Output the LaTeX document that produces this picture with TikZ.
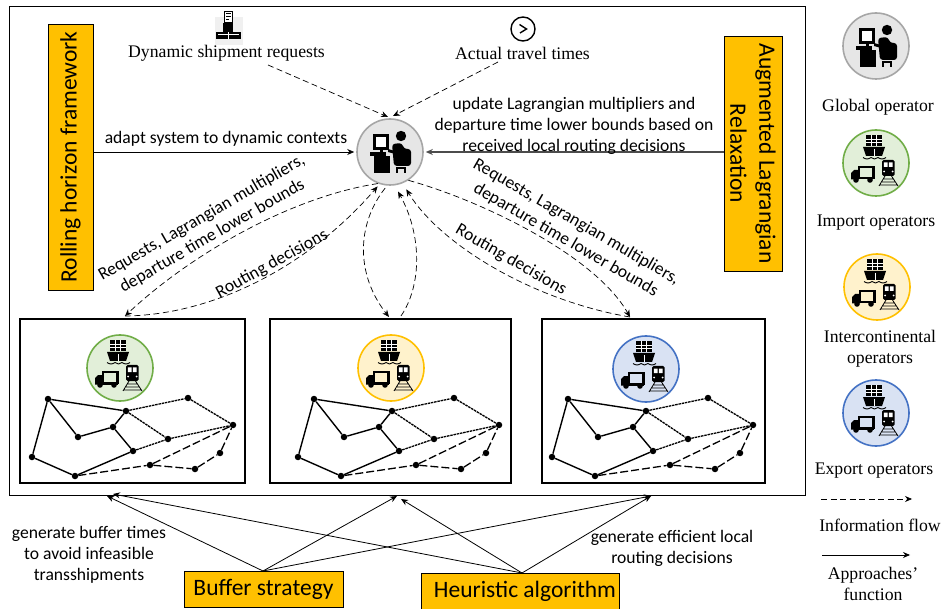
\documentclass[tikz,border=0pt]{standalone}
\usepackage{fontspec}
\setmainfont{Liberation Serif}
\newfontfamily\calib{Carlito}
\usetikzlibrary{arrows.meta,calc}
\tikzset{
  flow/.style={draw=black,line width=0.7pt,dash pattern=on 6pt off 3.5pt,-{Stealth[length=7pt,width=6pt]}},
  func/.style={draw=black,line width=0.8pt,-{Stealth[length=7pt,width=6pt]}},
  yellowbox/.style={draw=black,fill=orangebox,line width=0.8pt,inner sep=0pt,font=\calib\fontsize{23.5}{28}\selectfont,align=center},
  panel/.style={draw=black,line width=1.2pt,fill=white,minimum width=225pt,minimum height=164pt,inner sep=0pt},
  calibtext/.style={font=\calib\fontsize{17.6}{21}\selectfont,align=center,inner sep=0pt},
  serif/.style={font=\fontsize{17.7}{21}\selectfont,align=center,inner sep=0pt},
  disc/.style={circle,minimum size=66pt,inner sep=0pt,line width=1.6pt},
  grayd/.style={disc,draw=graybd,fill=grayfl},
  greend/.style={disc,draw=greenbd,fill=greenfl},
  yellowd/.style={disc,draw=orangebox,fill=yellowfl},
  blued/.style={disc,draw=bluebd,fill=bluefl},
  netnode/.style={circle,fill=black,minimum size=6.5pt,inner sep=0pt},
  solidedge/.style={line width=1.4pt},
  fineedge/.style={line width=1.3pt,dash pattern=on 2.5pt off 0.8pt},
  longedge/.style={line width=1.3pt,dash pattern=on 8pt off 3pt},
  pics/operator/.style={code={
    \draw[black,line width=2.4pt,fill=white] (-15.5,-16.5) rectangle (-2.5,-3.5);
    \fill[black] (-20,0) rectangle (-4,4);
    \fill[black] (-16,4) rectangle (0,21);
    \fill[black] (-10,-3) rectangle (-7,0);
    \fill[black] (11,-16) circle (5.2pt);
    \fill[black,rounded corners=3pt] (2,-8) -- (12,-9) -- (14,-3) -- (21,-3) -- (21,14) -- (4,14) -- cycle;
    \fill[black] (-2,-3) -- (5,-1) -- (5,2) -- (-2,0) -- cycle;
    \draw[black,line width=2pt] (7,21) -- (7,16) -- (15,16) -- (15,21);
  }},
  pics/transport/.style={code={
    \fill[black] (-10,-28) rectangle (6,-17);
    \draw[white,line width=0.4pt] (-5,-28) -- (-5,-17) (0.5,-28) -- (0.5,-17) (-10,-24) -- (6,-24) (-10,-20.5) -- (6,-20.5);
    \fill[black] (-13,-16) -- (9,-16) -- (6,-7) -- (-10,-7) -- cycle;
    \draw[white,line width=0.5pt] (-2,-14) -- (-2,-7);
    \draw[black,line width=0.9pt] (-13,-5.5) .. controls (-10,-3.5) and (-8,-3.5) .. (-5,-5.5) .. controls (-3,-3.5) and (0,-3.5) .. (2,-5.5) .. controls (5,-3.5) and (7,-3.5) .. (10,-5.5);
    \draw[black,line width=2.2pt] (-17,4) rectangle (-2.5,15);
    \fill[black] (-25,16.5) -- (-25,10) -- (-22,7) -- (-17,7) -- (-17,16.5) -- cycle;
    \fill[black] (-2,15) -- (-18,15) -- (-18,16.5) -- (-2,16.5) -- cycle;
    \fill[black] (-20,17) circle (2.8pt) (-6,17) circle (2.8pt);
    \fill[black,rounded corners=1.5pt] (6,-3) rectangle (18.5,13);
    \fill[white] (7.8,-0.5) rectangle (11.6,4) (12.9,-0.5) rectangle (16.7,4);
    \fill[white] (8,8.5) circle (1pt) (16.5,8.5) circle (1pt);
    \draw[black,line width=0.8pt] (9,13) -- (3,23) (15.5,13) -- (22,23) (7.5,16) -- (17,16) (6,19) -- (18.5,19) (4,22) -- (21,22);
  }}
}
\definecolor{orangebox}{HTML}{FFC000}
\definecolor{graybd}{HTML}{A6A6A6}
\definecolor{grayfl}{HTML}{E6E6E6}
\definecolor{greenbd}{HTML}{70AD47}
\definecolor{greenfl}{HTML}{E2EFD9}
\definecolor{yellowfl}{HTML}{FFF2CC}
\definecolor{bluebd}{HTML}{4472C4}
\definecolor{bluefl}{HTML}{D9E2F3}
\newcommand{\netdraw}[3]{%
  \begin{scope}[shift={(#2,#3)},name prefix=#1-]
    \node[netnode] (a) at (48,399) {};
    \node[netnode] (b) at (126,411) {};
    \node[netnode] (c) at (188,398) {};
    \node[netnode] (d) at (233,425) {};
    \node[netnode] (e) at (78,437) {};
    \node[netnode] (f) at (113,427) {};
    \node[netnode] (g) at (168,439) {};
    \node[netnode] (h) at (133,451) {};
    \node[netnode] (i) at (32,457) {};
    \node[netnode] (j) at (75,476) {};
    \node[netnode] (k) at (150,465) {};
    \node[netnode] (l) at (195,469) {};
    \node[netnode] (m) at (220,453) {};
    \draw[solidedge] (a) -- (b) (a) -- (e) -- (f) -- (b) (f) -- (h) (a) -- (i) -- (j) -- (h);
    \draw[fineedge] (b) -- (c) (c) -- (d) (b) -- (g) (h) -- (g) (g) -- (d);
    \draw[longedge] (j) -- (k) (k) -- (d) (k) -- (l) (l) -- (m) (m) -- (d);
  \end{scope}}
\begin{document}
\begin{tikzpicture}[x=1pt,y=-1pt]
\useasboundingbox (0,0) rectangle (942,609);
% main frame
\node[draw=black,line width=0.9pt,minimum width=796pt,minimum height=489pt,inner sep=0pt] (frame) at (407,250.5) {};
% side boxes
\node[yellowbox,minimum width=266pt,minimum height=45pt,rotate=90] (rolling) at (70.5,157) {Rolling horizon framework};
\node[yellowbox,minimum width=235pt,minimum height=58pt,rotate=-90,font=\calib\fontsize{23.5}{29}\selectfont] (relax) at (753,153.5) {Augmented Lagrangian\\Relaxation};
% global operator
\node[grayd] (G) at (390,152) {};
\pic at (G.center) {operator};
% panels
\node[panel] (P1) at (132.5,401) {};
\node[panel,minimum width=241pt] (P2) at (390.5,401) {};
\node[panel,minimum width=223pt] (P3) at (653.5,401) {};
\node[greend] (I1) at (120,368) {};
\pic at (I1.center) {transport};
\node[yellowd] (I2) at (391,368) {};
\pic at (I2.center) {transport};
\node[blued] (I3) at (646,369) {};
\pic at (I3.center) {transport};
\netdraw{n1}{0}{0}
\netdraw{n2}{266}{0}
\netdraw{n3}{520}{0}
% inputs
\fill[black!6] (215,17) rectangle (243,45);
\fill[black] (223,23) rectangle (233,32);
\fill[black] (216,32) rectangle (241,39.5);
\draw[white,line width=0.5pt] (228.5,32) -- (228.5,39.5) (218,34) -- (239,34);
\draw[black,line width=0.7pt,fill=white] (224,11) rectangle (232.5,22);
\draw[black,line width=1pt] (226,14) -- (231,14) (226,17) -- (231,17) (226,20) -- (229,20);
\draw[black,line width=1.4pt] (523,29) circle (12pt);
\draw[black,line width=1.4pt] (519.5,24.5) -- (526.5,29) -- (520,33);
\node[serif] (D) at (226.5,53.5) {Dynamic shipment requests};
\node[serif] (A) at (522.5,53.5) {Actual travel times};
\coordinate (Dout) at (268,65);
\coordinate (Aout) at (498,62);
\draw[flow] (Dout) -- ($(G)+(-2,-35)$);
\draw[flow] (Aout) -- ($(G)+(3,-36)$);
% solid to G
\draw[func,shorten >=2pt] (rolling.south |- G) -- (G);
\draw[func,draw=black!70,line width=1.1pt,shorten >=2pt] (relax.south |- G) -- (G);
\node[calibtext] (adapt) at (226,139) {adapt system to dynamic contexts};
\node[calibtext] (update) at (574,126) {update Lagrangian multipliers and\\departure time lower bounds based on\\received local routing decisions};
% curved flows
\coordinate (p1t) at (125,316);
\coordinate (p2t) at (389,317);
\coordinate (p2s) at (401,316);
\coordinate (p3t) at (630,317);
\draw[flow] (G.249) .. controls (290,197) and (190,255) .. (p1t);
\draw[flow,shorten >=3pt] (p1t) .. controls (215,315) and (310,265) .. (G.252);
\draw[flow,shorten <=3pt] (G.265) .. controls (356,225) and (356,275) .. (p2t);
\draw[flow,shorten >=7pt] (p2s) .. controls (422,285) and (422,235) .. (G.278);
\draw[flow,shorten >=7pt] (p3t) .. controls (530,300) and (439,243) .. (G.292);
\draw[flow] (G.303) .. controls (480,200) and (595,255) .. (p3t);
\node[calibtext,rotate=30] (L1) at (207,227) {Requests, Lagrangian multipliers,\\departure time lower bounds};
\node[calibtext,rotate=29] (L2) at (272,264) {Routing decisions};
\node[calibtext,rotate=-30] (L3) at (571,231) {Requests, Lagrangian multipliers,\\departure time lower bounds};
\node[calibtext,rotate=-30] (L4) at (511,260) {Routing decisions};
% bottom
\node[yellowbox,minimum width=159pt,minimum height=36pt] (B) at (263.5,589) {\raisebox{-2pt}{Buffer strategy}};
\node[yellowbox,minimum width=198pt,minimum height=36pt] (H) at (520,591) {\hspace*{10pt}\raisebox{-2pt}{Heuristic algorithm}};
\coordinate (f1a) at (107,496);
\coordinate (f1b) at (113,494);
\coordinate (f2a) at (397,496);
\coordinate (f2b) at (401,499);
\coordinate (f3) at (651,496);
\coordinate (bt) at (263,571);
\coordinate (ht) at (522,573);
\draw[func] (bt) -- (f1a);
\draw[func] (bt) -- (f2a);
\draw[func] (bt) -- (f3);
\draw[func] (ht) -- (f1b);
\draw[func] (ht) -- (f2b);
\draw[func] (ht) -- (f3);
\node[calibtext] (btxt) at (89,555) {generate buffer times\\to avoid infeasible\\transshipments};
\node[calibtext] (htxt) at (672,548) {generate efficient local\\routing decisions};
% legend
\node[grayd] (LG) at (876,46) {};
\pic at (LG.center) {operator};
\node[serif] (LGt) at (878,107) {Global operator};
\node[greend] (LI) at (876,163) {};
\pic at (LI.center) {transport};
\node[serif] (LIt) at (876,223) {Import operators};
\node[yellowd] (LY) at (877,287) {};
\pic at (LY.center) {transport};
\node[serif] (LYt) at (880,349) {Intercontinental\\operators};
\node[blued] (LB) at (876,413) {};
\pic at (LB.center) {transport};
\node[serif] (LBt) at (874,471) {Export operators};
\coordinate (l1a) at (821,499);
\coordinate (l1b) at (912,499);
\coordinate (l2a) at (822,555);
\coordinate (l2b) at (910,555);
\draw[flow] (l1a) -- (l1b);
\draw[func] (l2a) -- (l2b);
\node[serif] (LFt) at (880,525) {Information flow};
\node[serif] (LAt) at (873,584) {Approaches’\\function};
\end{tikzpicture}
\end{document}
